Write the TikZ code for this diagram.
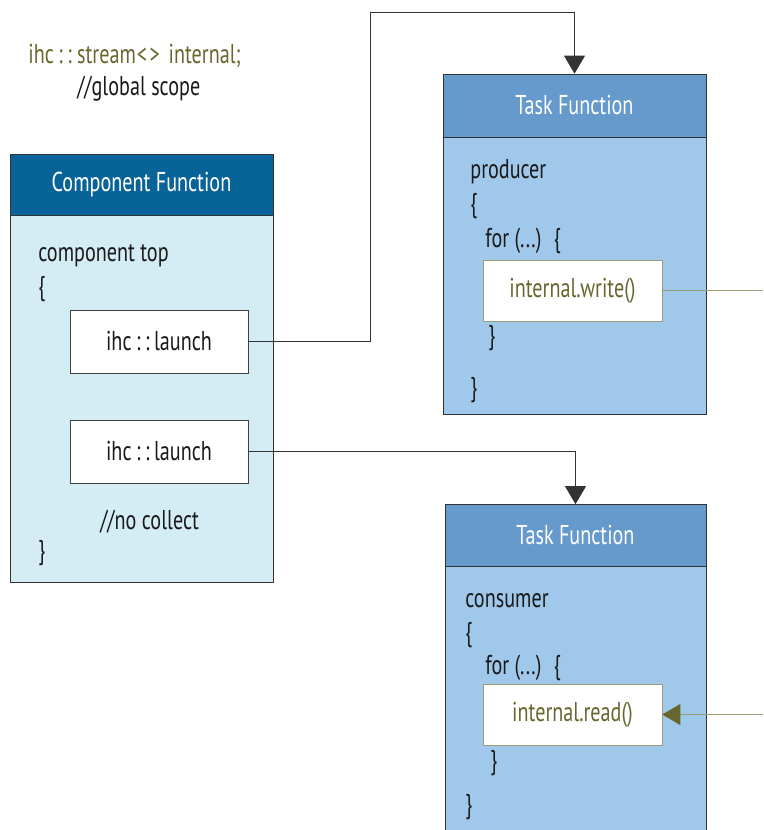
\documentclass[tikz,border=0pt]{standalone}
\usepackage{fontspec}
\setmainfont[FakeStretch=0.74]{PT Sans}
\usepackage{xcolor}
\usetikzlibrary{arrows.meta}
\definecolor{comphead}{RGB}{8,100,152}
\definecolor{compbody}{RGB}{212,236,244}
\definecolor{taskhead}{RGB}{102,153,204}
\definecolor{taskbody}{RGB}{160,200,234}
\definecolor{olivetext}{RGB}{102,102,46}
\definecolor{oliveline}{RGB}{156,156,120}
\tikzset{
  every node/.style={
    text=black!90, font=\fontsize{15.5}{18}\selectfont
  },
  head/.style={draw=black!80, thin, text=white, minimum width=5.26cm, minimum height=1.24cm, inner sep=0pt},
  body/.style={draw=black!80, thin, minimum width=5.26cm, inner sep=0pt},
  call/.style={draw=black!75, thin, fill=white, minimum width=3.56cm, minimum height=1.26cm, inner sep=0pt},
  access/.style={draw=oliveline, thin, fill=white, text=olivetext, minimum width=3.58cm, minimum height=1.22cm, inner sep=0pt},
  code/.style={anchor=west, inner sep=0pt},
  link/.style={draw=black!80, thin, -{Triangle[width=0.42cm,length=0.36cm]}}
}

\begin{document}
\begin{tikzpicture}[x=0.02cm, y=-0.02cm]
    \useasboundingbox (0,0) rectangle (763,830);
    \begin{scope}
    \clip (0,0) rectangle (763,830);
    % global stream
    \node[code, text=olivetext] (stream) at (28,56) {ihc\,:\,:\ stream\kern0.5pt<\kern1.5pt>\ \kern2pt internal;};
    \node[code] (scope) at (77,89) {//global scope};

    % component function
    \node[body, fill=compbody, minimum height=7.36cm] (compbody) at (141.5,398) {};
    \node[head, fill=comphead, minimum height=1.22cm] (comphead) at (141.5,184.5) {Component Function};
    \node[code] (ctop) at (38,256) {component top};
    \node[code] (copen) at (38,289) {\{};
    \node[call] (launchA) at (159,341.5) {ihc\,:\,:\,launch};
    \node[call] (launchB) at (159,451.5) {ihc\,:\,:\,launch};
    \node[code] (nocollect) at (100,522) {//no collect};
    \node[code] (cclose) at (38,553) {\}};

    % producer task
    \node[body, fill=taskbody, minimum height=5.56cm] (taskAbody) at (574.5,275) {};
    \node[head, fill=taskhead, minimum height=1.26cm] (taskAhead) at (574.5,105.5) {Task Function};
    \node[code] (prod) at (470,172) {producer};
    \node[code] (popen) at (470,206) {\{};
    \node[code] (pfor) at (485,241) {for (...) \ \{};
    \node[access] (write) at (572.5,290.5) {internal.write()};
    \node[code] (pforend) at (488,338) {\}};
    \node[code] (pclose) at (470,390) {\}};

    % consumer task
    \node[body, fill=taskbody, minimum width=5.22cm, minimum height=5.6cm] (taskBbody) at (575.5,706) {};
    \node[head, fill=taskhead, minimum width=5.22cm] (taskBhead) at (575.5,535.5) {Task Function};
    \node[code] (cons) at (465,601) {consumer};
    \node[code] (kopen) at (465,635) {\{};
    \node[code] (kfor) at (485,668) {for (...) \ \{};
    \node[access] (read) at (572.5,714.5) {internal.read()};
    \node[code] (kforend) at (490,763) {\}};
    \node[code] (kclose) at (465,807) {\}};

    % launches
    \coordinate (bend) at (370,12);
    \draw[link] (launchA.east) -| (bend) -| (taskAhead.north);
    \draw[link] (launchB.east) -| (taskBhead.north);

    % stream ends
    \coordinate (wout) at (763,290.5);
    \coordinate (rin) at (763,714.5);
    \draw[oliveline, thin] (write.east) -- (wout);
    \draw[oliveline, thin, -{Triangle[width=0.42cm,length=0.36cm,fill=olivetext,color=olivetext]}] (rin) -- (read.east);
    \end{scope}
\end{tikzpicture}
\end{document}
